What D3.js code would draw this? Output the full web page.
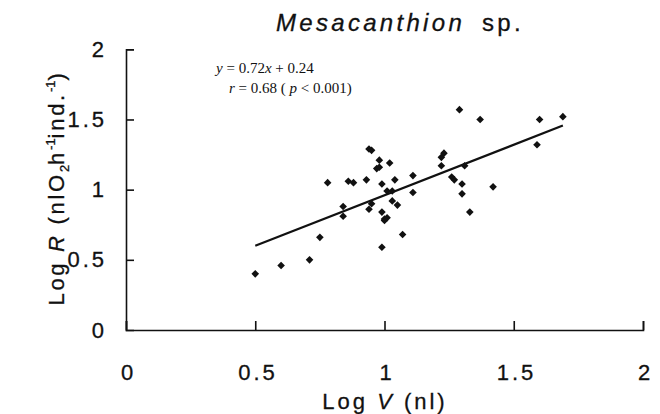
<!DOCTYPE html>
<meta charset='utf-8'>
<style>
	body { margin: 0; background: #fff; }
	svg { display: block; }
	.sans { font-family: 'Liberation Sans', Arial, sans-serif; fill: #111; stroke: #111; stroke-width: 0.3; }
	.axis path, .axis line { stroke: #111; stroke-width: 1.6; }
	.axis text { font-family: 'Liberation Sans', Arial, sans-serif; font-size: 22px; letter-spacing: 3px; fill: #111; stroke: #111; stroke-width: 0.3; }
</style>
<body>
	<div id='container'></div>
<script src='https://d3js.org/d3.v7.min.js'></script>
<script>
	// Log V (nl), Log R pairs
	const logV = [0.50, 0.60, 0.71, 0.75, 0.78, 0.84, 0.84, 0.86, 0.88, 0.93,
		0.94, 0.95, 0.95, 0.94, 0.98, 0.97, 0.98, 1.02, 0.99, 0.99,
		0.99, 1.00, 1.00, 1.01, 1.01, 1.03, 1.03, 1.04, 1.05, 1.07,
		1.11, 1.11, 1.22, 1.23, 1.22, 1.26, 1.27, 1.29, 1.30, 1.30,
		1.31, 1.33, 1.37, 1.42, 1.59, 1.60, 1.69];
	const logR = [0.40, 0.46, 0.50, 0.66, 1.05, 0.88, 0.81, 1.06, 1.05, 1.07,
		1.29, 1.28, 0.90, 0.86, 1.21, 1.15, 1.16, 1.19, 1.04, 0.84,
		0.59, 0.78, 0.79, 0.80, 0.99, 0.99, 0.92, 1.07, 0.89, 0.68,
		0.98, 1.10, 1.23, 1.26, 1.17, 1.09, 1.07, 1.57, 1.04, 0.97,
		1.17, 0.84, 1.50, 1.02, 1.32, 1.50, 1.52];

	const slope = 0.72, intercept = 0.24;
	const fitX = [0.5, 1.69];

	const tickVals = [0, 0.5, 1, 1.5, 2];
	const tickLabels = ['0', '0.5', '1', '1.5', '2'];

	const W = 660, H = 414;

	const x = d3.scaleLinear().domain( [0, 2] ).range( [126, 643] );
	const y = d3.scaleLinear().domain( [0, 2] ).range( [330, 49.3] );

	const svg = d3.select( '#container' ).append( 'svg' )
		.attr( 'width', W )
		.attr( 'height', H );

	const fmt = d => tickLabels[tickVals.indexOf( d )];

	svg.append( 'g' )
		.attr( 'class', 'axis' )
		.attr( 'transform', `translate(0, ${y( 0 )})` )
		.call( d3.axisBottom( x ).tickValues( tickVals ).tickFormat( fmt )
			.tickSize( -9 ).tickPadding( 34 ) )
		.call( g => g.selectAll( 'text' ).attr( 'dx', '0.1em' ) );

	svg.append( 'g' )
		.attr( 'class', 'axis' )
		.attr( 'transform', `translate(${x( 0 )}, 0)` )
		.call( d3.axisLeft( y ).tickValues( tickVals ).tickFormat( fmt )
			.tickSize( -8 ).tickPadding( 19 ) )
		.call( g => g.selectAll( '.tick' ).filter( d => d === 0 ).select( 'line' ).remove() );

	// regression line
	svg.append( 'line' )
		.attr( 'x1', x( fitX[0] ) ).attr( 'y1', y( slope * fitX[0] + intercept ) )
		.attr( 'x2', x( fitX[1] ) ).attr( 'y2', y( slope * fitX[1] + intercept ) )
		.attr( 'stroke', '#111' ).attr( 'stroke-width', 2.2 );

	// diamonds
	const diamond = d3.symbol( d3.symbolSquare, 29 );
	svg.append( 'g' ).selectAll( 'path' )
		.data( d3.range( logV.length ) )
		.join( 'path' )
		.attr( 'd', diamond )
		.attr( 'transform', i => `translate(${x( logV[i] )}, ${y( logR[i] )}) rotate(45)` )
		.attr( 'fill', '#111' );

	// title
	const title = svg.append( 'text' ).attr( 'class', 'sans' )
		.attr( 'x', 276 ).attr( 'y', 31 )
		.style( 'font-size', '24px' ).style( 'letter-spacing', '3.3px' );
	title.append( 'tspan' ).style( 'font-style', 'italic' ).text( 'Mesacanthion' );
	title.append( 'tspan' ).attr( 'dx', 17 ).text( 'sp.' );

	// equation
	const eq = svg.append( 'g' )
		.style( 'font-family', "'Liberation Serif', 'Times New Roman', serif" )
		.style( 'font-size', '15px' ).attr( 'fill', '#111' );
	const l1 = eq.append( 'text' ).attr( 'x', 216 ).attr( 'y', 73 );
	l1.append( 'tspan' ).style( 'font-style', 'italic' ).text( 'y' );
	l1.append( 'tspan' ).text( ' = 0.72' );
	l1.append( 'tspan' ).style( 'font-style', 'italic' ).text( 'x' );
	l1.append( 'tspan' ).text( ' + 0.24' );
	const l2 = eq.append( 'text' ).attr( 'x', 229 ).attr( 'y', 93 );
	l2.append( 'tspan' ).style( 'font-style', 'italic' ).text( 'r' );
	l2.append( 'tspan' ).text( ' = 0.68 ( ' );
	l2.append( 'tspan' ).style( 'font-style', 'italic' ).text( 'p' );
	l2.append( 'tspan' ).text( ' < 0.001)' );

	// x label
	const xl = svg.append( 'text' ).attr( 'class', 'sans' )
		.attr( 'x', 385 ).attr( 'y', 409 ).attr( 'text-anchor', 'middle' )
		.style( 'font-size', '22px' ).style( 'letter-spacing', '3px' );
	xl.append( 'tspan' ).text( 'Log ' );
	xl.append( 'tspan' ).style( 'font-style', 'italic' ).text( 'V' );
	xl.append( 'tspan' ).text( ' (nl)' );

	// y label
	const yl = svg.append( 'text' ).attr( 'class', 'sans' )
		.attr( 'transform', 'translate(64, 188) rotate(-90)' )
		.attr( 'text-anchor', 'middle' )
		.style( 'font-size', '22px' ).style( 'letter-spacing', '2.7px' );
	yl.append( 'tspan' ).text( 'Log ' );
	yl.append( 'tspan' ).style( 'font-style', 'italic' ).text( 'R' );
	yl.append( 'tspan' ).text( ' (nlO' );
	yl.append( 'tspan' ).attr( 'dy', 5 ).style( 'font-size', '13px' ).style( 'letter-spacing', '0px' ).text( '2' );
	yl.append( 'tspan' ).attr( 'dy', -5 ).text( 'h' );
	yl.append( 'tspan' ).attr( 'dy', -9 ).style( 'font-size', '13px' ).style( 'letter-spacing', '0px' ).text( '-1' );
	yl.append( 'tspan' ).attr( 'dy', 9 ).text( 'ind.' );
	yl.append( 'tspan' ).attr( 'dy', -9 ).style( 'font-size', '13px' ).style( 'letter-spacing', '0px' ).text( '-1' );
	yl.append( 'tspan' ).attr( 'dy', 9 ).text( ')' );
</script>
</body>
